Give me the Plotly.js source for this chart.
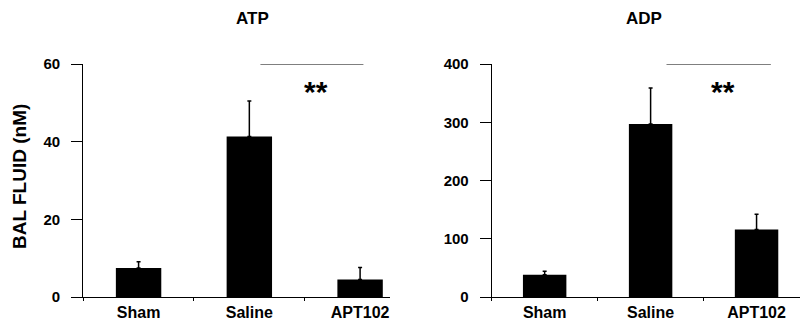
<!DOCTYPE html>
<html>
<head>
<meta charset="utf-8">
<script src="https://cdn.plot.ly/plotly-3.0.1.min.js"></script>
<style>html,body{margin:0;padding:0;background:#fff;}#chart{width:800px;height:321px;}</style>
</head>
<body>
<div id="chart"></div>
<script>
const categories = ["Sham", "Saline", "APT102"];
const atpValues = [7.5, 41.3, 4.5];
const atpErrors = [1.6, 9.2, 3.1];
const adpValues = [38, 297, 116];
const adpErrors = [6, 62, 26];
const panelTitles = ["ATP", "ADP"];
const yTitle = "BAL FLUID (nM)";
const sigLabel = "**";
const atpTicks = [0, 20, 40, 60];
const adpTicks = [0, 100, 200, 300, 400];

const FONT = "Liberation Sans, Arial, sans-serif";
const W = 800, H = 321, T = 64, B = 24;
const PH = H - T - B;
function py(pix) { return (H - B - pix) / PH; }

function barTrace(vals, errs, xa, ya) {
  return {
    type: "bar", x: categories, y: vals, xaxis: xa, yaxis: ya,
    width: 0.41,
    marker: {color: "#000", line: {width: 0}},
    error_y: {type: "data", symmetric: false, array: errs,
              arrayminus: errs.map(() => 0), color: "#000", thickness: 1.5, width: 2},
    hoverinfo: "none", showlegend: false
  };
}

const data = [
  barTrace(atpValues, atpErrors, "x", "y"),
  barTrace(adpValues, adpErrors, "x2", "y2")
];

function xAxis(domain, range, anchor) {
  return {
    domain: domain, range: range, anchor: anchor, type: "category",
    showline: true, linecolor: "#000", linewidth: 1,
    ticks: "outside", tickson: "boundaries", ticklen: 3, tickcolor: "#000",
    ticklabelstandoff: 1,
    showgrid: false, zeroline: false, fixedrange: true,
    tickfont: {family: FONT, size: 16, color: "#000", weight: "bold"}
  };
}
function yAxis(range, ticks, anchor) {
  return {
    range: range, anchor: anchor, domain: [0, 1],
    tickmode: "array", tickvals: ticks, ticktext: ticks.map(String),
    showline: true, linecolor: "#000", linewidth: 1,
    ticks: "outside", ticklen: 11, tickcolor: "#000",
    ticklabelstandoff: 8,
    showgrid: false, zeroline: false, fixedrange: true,
    tickfont: {family: FONT, size: 15, color: "#000", weight: "bold"}
  };
}

const layout = {
  width: W, height: H,
  margin: {l: 0, r: 0, t: T, b: B, pad: 0},
  paper_bgcolor: "#fff", plot_bgcolor: "#fff",
  xaxis: xAxis([0.104, 0.4875], [-0.5, 2.27], "y"),
  yaxis: yAxis([0, 60], atpTicks, "x"),
  xaxis2: xAxis([0.6146, 1.0], [-0.5, 2.41], "y2"),
  yaxis2: yAxis([0, 400], adpTicks, "x2"),
  shapes: [
    {type: "line", xref: "x", yref: "y", x0: 1.1, x1: 2.03, y0: 60, y1: 60,
     line: {color: "#000", width: 1.2}},
    {type: "line", xref: "x2", yref: "y2", x0: 1.15, x1: 2.135, y0: 400, y1: 400,
     line: {color: "#000", width: 1.2}}
  ],
  annotations: [
    {text: panelTitles[0], xref: "paper", yref: "paper", x: 252/W, y: py(18),
     yanchor: "middle", xanchor: "center", showarrow: false,
     font: {family: FONT, size: 17, color: "#000", weight: "bold"}},
    {text: panelTitles[1], xref: "paper", yref: "paper", x: 644/W, y: py(18),
     yanchor: "middle", xanchor: "center", showarrow: false,
     font: {family: FONT, size: 17, color: "#000", weight: "bold"}},
    {text: yTitle, xref: "paper", yref: "paper", x: 19/W, y: py(177),
     xanchor: "center", yanchor: "middle", textangle: -90, showarrow: false,
     font: {family: FONT, size: 19, color: "#000", weight: "bold"}},
    {text: sigLabel, xref: "x", yref: "y", x: 1.6, y: 52.9, showarrow: false,
     xanchor: "center", yanchor: "middle",
     font: {family: FONT, size: 30, color: "#000", weight: "bold"}},
    {text: sigLabel, xref: "x2", yref: "y2", x: 1.68, y: 352, showarrow: false,
     xanchor: "center", yanchor: "middle",
     font: {family: FONT, size: 30, color: "#000", weight: "bold"}}
  ]
};

Plotly.newPlot("chart", data, layout, {staticPlot: true, displayModeBar: false});
</script>
</body>
</html>
